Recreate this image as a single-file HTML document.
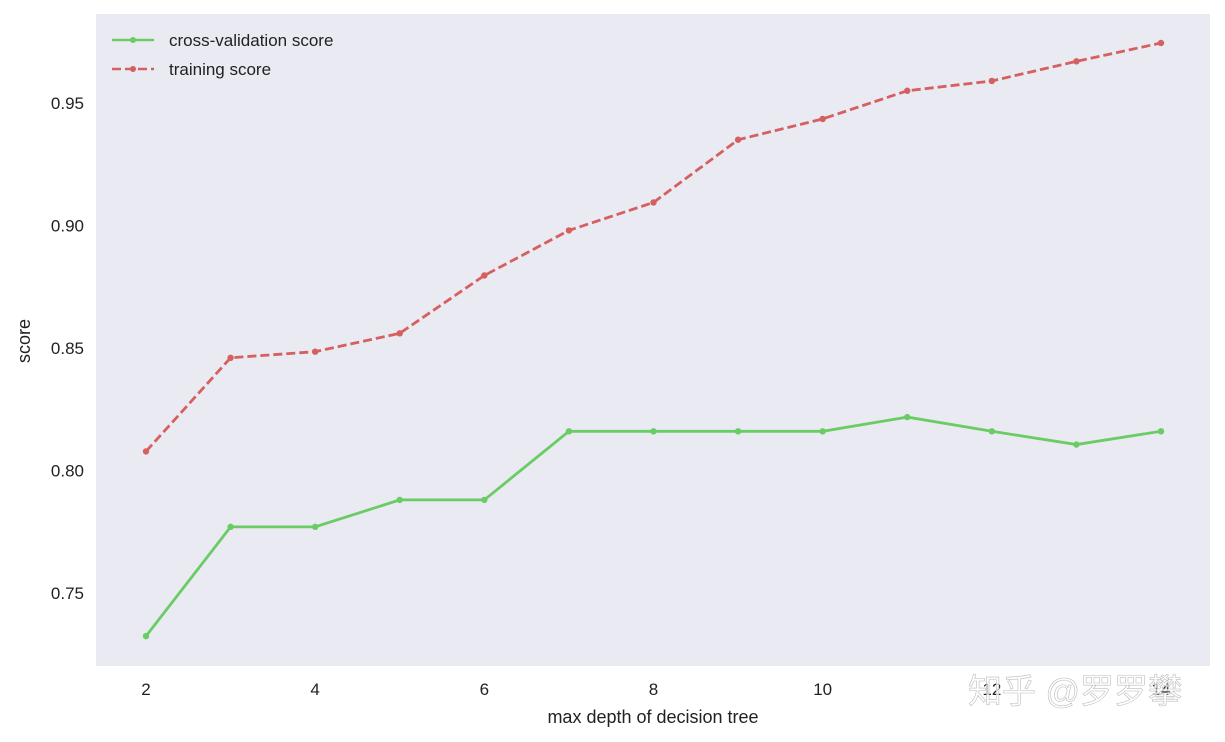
<!DOCTYPE html>
<html><head><meta charset="utf-8"><style>
body{margin:0;background:#fff;}
svg{display:block;font-family:"Liberation Sans","Noto Sans CJK SC",sans-serif;}
</style></head><body>
<svg id="chart" width="1225" height="742">
<rect x="96" y="14" width="1114" height="652" fill="#eaeaf2"/>
<g id="ticks"></g>
<g id="series"></g>
<text x="653" y="723" font-size="18" text-anchor="middle" fill="#222">max depth of decision tree</text>
<text x="30" y="341" font-size="18" text-anchor="middle" fill="#222" transform="rotate(-90 30 341)">score</text>
<g>
<g>
<line x1="112" y1="40" x2="154" y2="40" stroke="#6acc65" stroke-width="2.5"/><circle cx="133" cy="40" r="3" fill="#6acc65"/>
<text x="169" y="46" font-size="17" fill="#222">cross-validation score</text></g>
<g>
<line x1="112" y1="69" x2="154" y2="69" stroke="#d65f5f" stroke-width="2.5" stroke-dasharray="9,4"/><circle cx="133" cy="69" r="3" fill="#d65f5f"/>
<text x="169" y="75" font-size="17" fill="#222">training score</text></g>
</g>
<text x="968" y="703" font-size="34" fill="#fff" fill-opacity="0.75" stroke="#bbb" stroke-width="0.6">知乎 @罗罗攀</text>
</svg>
<script>
const depths=[2,3,4,5,6,7,8,9,10,11,12,13,14];
const cvScores=[0.7324,0.777,0.777,0.788,0.788,0.816,0.816,0.816,0.816,0.8218,0.816,0.8106,0.816];
const trainScores=[0.8078,0.846,0.8485,0.856,0.8796,0.898,0.9094,0.935,0.9435,0.955,0.959,0.967,0.9745];
const xTicks=[2,4,6,8,10,12,14];
const yTicks=[0.75,0.80,0.85,0.90,0.95];
const yTickLabels=["0.75","0.80","0.85","0.90","0.95"];
const NS="http://www.w3.org/2000/svg";
const xs=v=>146+(v-2)*(1161-146)/12;
const ys=v=>593-(v-0.75)*(490/0.2);
const tg=document.getElementById('ticks');
xTicks.forEach(t=>{const e=document.createElementNS(NS,'text');
e.setAttribute('x',xs(t));e.setAttribute('y',695);e.setAttribute('font-size','17');e.setAttribute('text-anchor','middle');e.setAttribute('fill','#222');


e.textContent=t;tg.appendChild(e);});
yTicks.forEach((t,i)=>{const e=document.createElementNS(NS,'text');
e.setAttribute('x',84);e.setAttribute('y',ys(t)+6);e.setAttribute('font-size','17');e.setAttribute('text-anchor','end');e.setAttribute('fill','#222');


e.textContent=yTickLabels[i];tg.appendChild(e);});
const sg=document.getElementById('series');
function draw(vals,color,dash,name){
const p=document.createElementNS(NS,'polyline');
p.setAttribute('points',vals.map((v,i)=>xs(depths[i])+','+ys(v)).join(' '));
p.setAttribute('fill','none');p.setAttribute('stroke',color);p.setAttribute('stroke-width','2.8');
if(dash)p.setAttribute('stroke-dasharray','9,4');


sg.appendChild(p);
vals.forEach((v,i)=>{const c=document.createElementNS(NS,'circle');
c.setAttribute('cx',xs(depths[i]));c.setAttribute('cy',ys(v));c.setAttribute('r','3.2');c.setAttribute('fill',color);


sg.appendChild(c);});}
draw(trainScores,'#d65f5f',true,'training-score');
draw(cvScores,'#6acc65',false,'cv-score');
</script>
</body></html>
